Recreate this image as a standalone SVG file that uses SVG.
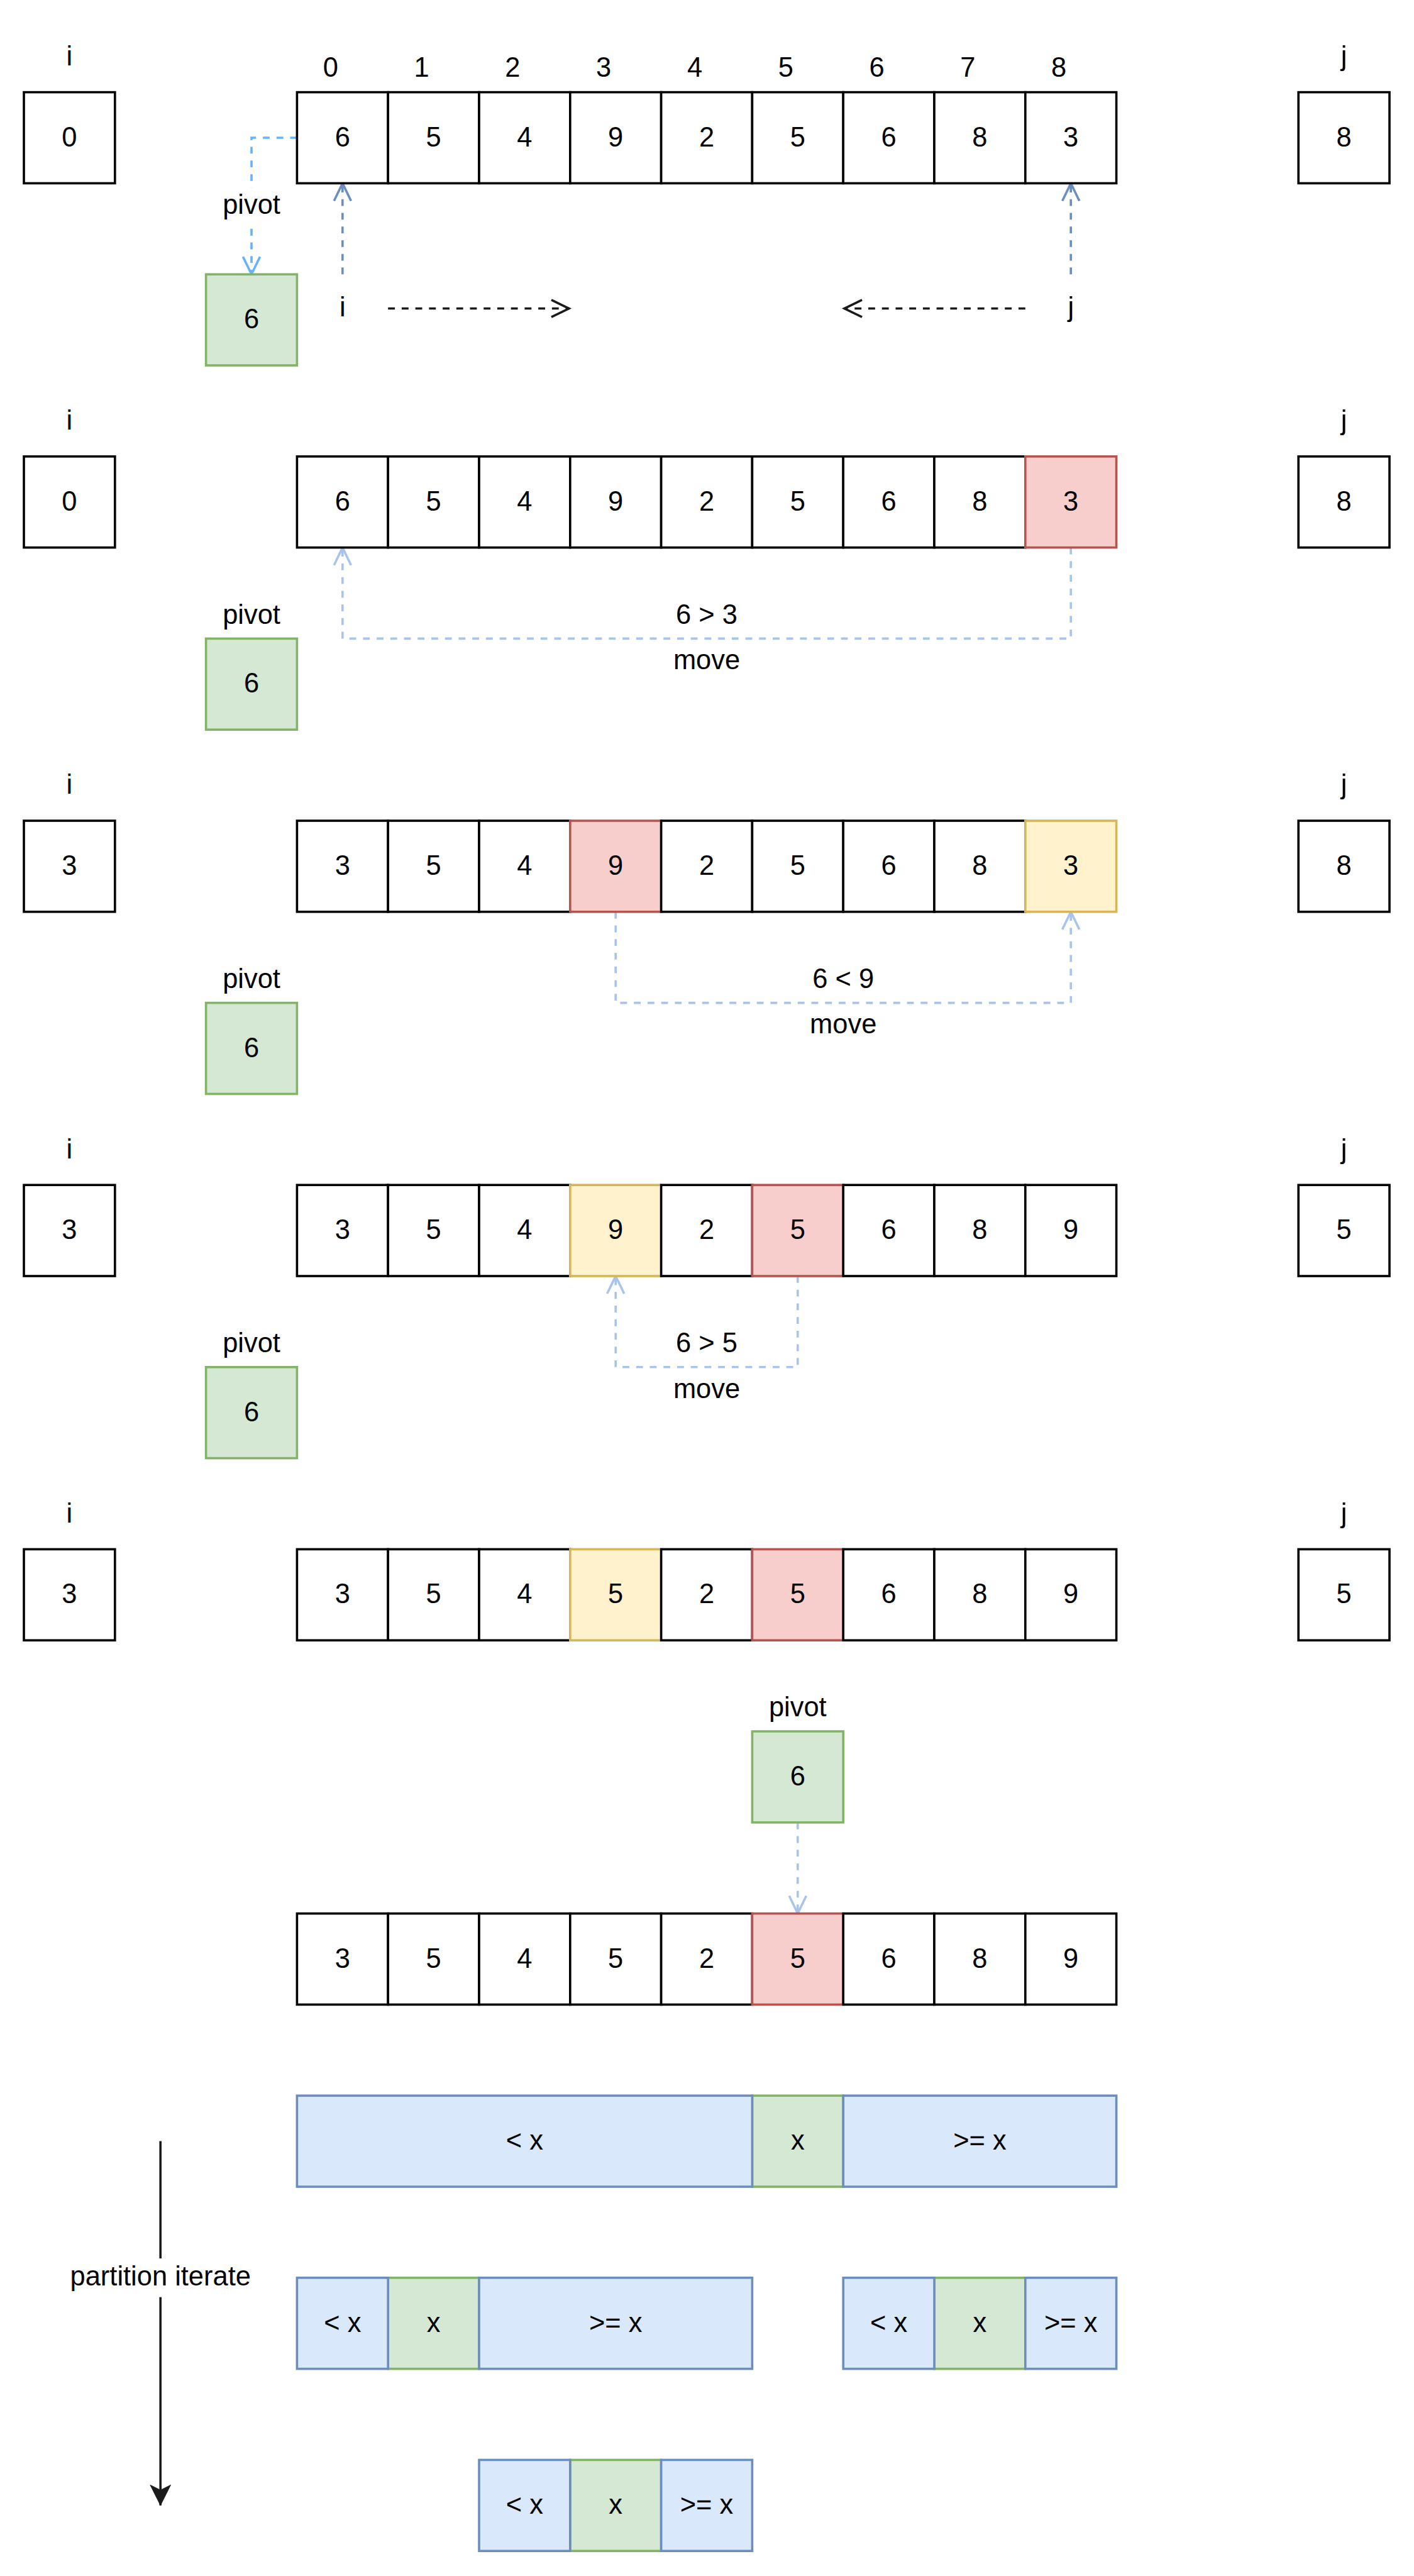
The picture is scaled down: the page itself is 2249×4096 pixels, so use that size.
<svg xmlns="http://www.w3.org/2000/svg" width="2249" height="4096" viewBox="0 0 2249 4096">
<style>
text{font-family:"Liberation Sans",Arial,Helvetica,sans-serif;font-size:48px;fill:#000;text-anchor:middle}
.c{fill:#fff;stroke:#000;stroke-width:4}
.r{fill:#F8CECC;stroke:#B85450;stroke-width:4}
.y{fill:#FFF2CC;stroke:#D6B656;stroke-width:4}
.g{fill:#D5E8D4;stroke:#82B366;stroke-width:4}
.b{fill:#DAE8FC;stroke:#6C8EBF;stroke-width:4}
.e{fill:none;stroke-width:4;stroke-dasharray:12 12}
</style>
<defs>
<marker id="mA" markerUnits="userSpaceOnUse" orient="auto" markerWidth="80" markerHeight="80" refX="0" refY="0" overflow="visible"><path d="M-31,-15 L0,0 L-31,15" fill="none" stroke="#66B2FF" stroke-width="4"/></marker>
<marker id="mB" markerUnits="userSpaceOnUse" orient="auto" markerWidth="80" markerHeight="80" refX="0" refY="0" overflow="visible"><path d="M-31,-15 L0,0 L-31,15" fill="none" stroke="#6C8EBF" stroke-width="4"/></marker>
<marker id="mC" markerUnits="userSpaceOnUse" orient="auto" markerWidth="80" markerHeight="80" refX="0" refY="0" overflow="visible"><path d="M-31,-15 L0,0 L-31,15" fill="none" stroke="#A9C4EB" stroke-width="4"/></marker>
<marker id="mK" markerUnits="userSpaceOnUse" orient="auto" markerWidth="80" markerHeight="80" refX="0" refY="0" overflow="visible"><path d="M-31,-15 L0,0 L-31,15" fill="none" stroke="#1A1A1A" stroke-width="4"/></marker>
<marker id="mF" markerUnits="userSpaceOnUse" orient="auto" markerWidth="80" markerHeight="80" refX="0" refY="0" overflow="visible"><path d="M0,0 L-36,-18 L-27,0 L-36,18 Z" fill="#1A1A1A" stroke="#1A1A1A" stroke-width="1"/></marker>
</defs>
<rect width="2249" height="4096" fill="#fff"/>
<g transform="scale(0.905)">

<!-- connectors -->
<g id="connectors">
<path class="e" stroke="#66B2FF" d="M522,242 L442,242 L442,482" marker-end="url(#mA)"/>
<path class="e" stroke="#6C8EBF" d="M602,482 L602,322" marker-end="url(#mB)"/>
<path class="e" stroke="#6C8EBF" d="M1882,482 L1882,322" marker-end="url(#mB)"/>
<path class="e" stroke="#1A1A1A" d="M682,542 L1000,542" marker-end="url(#mK)"/>
<path class="e" stroke="#1A1A1A" d="M1802,542 L1484,542" marker-end="url(#mK)"/>
<path class="e" stroke="#A9C4EB" d="M1882,962 L1882,1122 L602,1122 L602,962" marker-end="url(#mC)"/>
<path class="e" stroke="#A9C4EB" d="M1082,1602 L1082,1762 L1882,1762 L1882,1602" marker-end="url(#mC)"/>
<path class="e" stroke="#A9C4EB" d="M1402,2242 L1402,2402 L1082,2402 L1082,2242" marker-end="url(#mC)"/>
<path class="e" stroke="#A9C4EB" d="M1402,3202 L1402,3362" marker-end="url(#mC)"/>
<path fill="none" stroke="#1A1A1A" stroke-width="4" d="M282,3762 L282,4402" marker-end="url(#mF)"/>
<rect x="390" y="330" width="104" height="62" fill="#fff"/>
<text x="442" y="376">pivot</text>
<rect x="118" y="3968" width="328" height="68" fill="#fff"/>
<text x="282" y="4016">partition iterate</text>
<text x="1242" y="1096">6 &gt; 3</text>
<text x="1242" y="1176">move</text>
<text x="1482" y="1736">6 &lt; 9</text>
<text x="1482" y="1816">move</text>
<text x="1242" y="2376">6 &gt; 5</text>
<text x="1242" y="2456">move</text>
<text x="602" y="556">i</text>
<text x="1882" y="556">j</text>
</g>

<!-- index labels -->
<g id="indices">
<text x="581" y="135">0</text><text x="741" y="135">1</text><text x="901" y="135">2</text><text x="1061" y="135">3</text><text x="1221" y="135">4</text><text x="1381" y="135">5</text><text x="1541" y="135">6</text><text x="1701" y="135">7</text><text x="1861" y="135">8</text>
</g>

<!-- Row 0 -->
<g id="row0">
<text x="122" y="115">i</text><text x="2362" y="115">j</text>
<g id="r0i"><rect class="c" x="42" y="162" width="160" height="160"/><text x="122" y="257">0</text></g>
<g id="r0j"><rect class="c" x="2282" y="162" width="160" height="160"/><text x="2362" y="257">8</text></g>
<g id="r0c0"><rect class="c" x="522" y="162" width="160" height="160"/><text x="602" y="257">6</text></g>
<g id="r0c1"><rect class="c" x="682" y="162" width="160" height="160"/><text x="762" y="257">5</text></g>
<g id="r0c2"><rect class="c" x="842" y="162" width="160" height="160"/><text x="922" y="257">4</text></g>
<g id="r0c3"><rect class="c" x="1002" y="162" width="160" height="160"/><text x="1082" y="257">9</text></g>
<g id="r0c4"><rect class="c" x="1162" y="162" width="160" height="160"/><text x="1242" y="257">2</text></g>
<g id="r0c5"><rect class="c" x="1322" y="162" width="160" height="160"/><text x="1402" y="257">5</text></g>
<g id="r0c6"><rect class="c" x="1482" y="162" width="160" height="160"/><text x="1562" y="257">6</text></g>
<g id="r0c7"><rect class="c" x="1642" y="162" width="160" height="160"/><text x="1722" y="257">8</text></g>
<g id="r0c8"><rect class="c" x="1802" y="162" width="160" height="160"/><text x="1882" y="257">3</text></g>
<g id="r0p"><rect class="g" x="362" y="482" width="160" height="160"/><text x="442" y="577">6</text></g>
</g>

<!-- Row 1 -->
<g id="row1">
<text x="122" y="755">i</text><text x="2362" y="755">j</text>
<g id="r1i"><rect class="c" x="42" y="802" width="160" height="160"/><text x="122" y="897">0</text></g>
<g id="r1j"><rect class="c" x="2282" y="802" width="160" height="160"/><text x="2362" y="897">8</text></g>
<g id="r1c0"><rect class="c" x="522" y="802" width="160" height="160"/><text x="602" y="897">6</text></g>
<g id="r1c1"><rect class="c" x="682" y="802" width="160" height="160"/><text x="762" y="897">5</text></g>
<g id="r1c2"><rect class="c" x="842" y="802" width="160" height="160"/><text x="922" y="897">4</text></g>
<g id="r1c3"><rect class="c" x="1002" y="802" width="160" height="160"/><text x="1082" y="897">9</text></g>
<g id="r1c4"><rect class="c" x="1162" y="802" width="160" height="160"/><text x="1242" y="897">2</text></g>
<g id="r1c5"><rect class="c" x="1322" y="802" width="160" height="160"/><text x="1402" y="897">5</text></g>
<g id="r1c6"><rect class="c" x="1482" y="802" width="160" height="160"/><text x="1562" y="897">6</text></g>
<g id="r1c7"><rect class="c" x="1642" y="802" width="160" height="160"/><text x="1722" y="897">8</text></g>
<g id="r1c8"><rect class="r" x="1802" y="802" width="160" height="160"/><text x="1882" y="897">3</text></g>
<g id="r1p"><text x="442" y="1096">pivot</text><rect class="g" x="362" y="1122" width="160" height="160"/><text x="442" y="1217">6</text></g>
</g>

<!-- Row 2 -->
<g id="row2">
<text x="122" y="1395">i</text><text x="2362" y="1395">j</text>
<g id="r2i"><rect class="c" x="42" y="1442" width="160" height="160"/><text x="122" y="1537">3</text></g>
<g id="r2j"><rect class="c" x="2282" y="1442" width="160" height="160"/><text x="2362" y="1537">8</text></g>
<g id="r2c0"><rect class="c" x="522" y="1442" width="160" height="160"/><text x="602" y="1537">3</text></g>
<g id="r2c1"><rect class="c" x="682" y="1442" width="160" height="160"/><text x="762" y="1537">5</text></g>
<g id="r2c2"><rect class="c" x="842" y="1442" width="160" height="160"/><text x="922" y="1537">4</text></g>
<g id="r2c3"><rect class="r" x="1002" y="1442" width="160" height="160"/><text x="1082" y="1537">9</text></g>
<g id="r2c4"><rect class="c" x="1162" y="1442" width="160" height="160"/><text x="1242" y="1537">2</text></g>
<g id="r2c5"><rect class="c" x="1322" y="1442" width="160" height="160"/><text x="1402" y="1537">5</text></g>
<g id="r2c6"><rect class="c" x="1482" y="1442" width="160" height="160"/><text x="1562" y="1537">6</text></g>
<g id="r2c7"><rect class="c" x="1642" y="1442" width="160" height="160"/><text x="1722" y="1537">8</text></g>
<g id="r2c8"><rect class="y" x="1802" y="1442" width="160" height="160"/><text x="1882" y="1537">3</text></g>
<g id="r2p"><text x="442" y="1736">pivot</text><rect class="g" x="362" y="1762" width="160" height="160"/><text x="442" y="1857">6</text></g>
</g>

<!-- Row 3 -->
<g id="row3">
<text x="122" y="2035">i</text><text x="2362" y="2035">j</text>
<g id="r3i"><rect class="c" x="42" y="2082" width="160" height="160"/><text x="122" y="2177">3</text></g>
<g id="r3j"><rect class="c" x="2282" y="2082" width="160" height="160"/><text x="2362" y="2177">5</text></g>
<g id="r3c0"><rect class="c" x="522" y="2082" width="160" height="160"/><text x="602" y="2177">3</text></g>
<g id="r3c1"><rect class="c" x="682" y="2082" width="160" height="160"/><text x="762" y="2177">5</text></g>
<g id="r3c2"><rect class="c" x="842" y="2082" width="160" height="160"/><text x="922" y="2177">4</text></g>
<g id="r3c3"><rect class="y" x="1002" y="2082" width="160" height="160"/><text x="1082" y="2177">9</text></g>
<g id="r3c4"><rect class="c" x="1162" y="2082" width="160" height="160"/><text x="1242" y="2177">2</text></g>
<g id="r3c5"><rect class="r" x="1322" y="2082" width="160" height="160"/><text x="1402" y="2177">5</text></g>
<g id="r3c6"><rect class="c" x="1482" y="2082" width="160" height="160"/><text x="1562" y="2177">6</text></g>
<g id="r3c7"><rect class="c" x="1642" y="2082" width="160" height="160"/><text x="1722" y="2177">8</text></g>
<g id="r3c8"><rect class="c" x="1802" y="2082" width="160" height="160"/><text x="1882" y="2177">9</text></g>
<g id="r3p"><text x="442" y="2376">pivot</text><rect class="g" x="362" y="2402" width="160" height="160"/><text x="442" y="2497">6</text></g>
</g>

<!-- Row 4 -->
<g id="row4">
<text x="122" y="2675">i</text><text x="2362" y="2675">j</text>
<g id="r4i"><rect class="c" x="42" y="2722" width="160" height="160"/><text x="122" y="2817">3</text></g>
<g id="r4j"><rect class="c" x="2282" y="2722" width="160" height="160"/><text x="2362" y="2817">5</text></g>
<g id="r4c0"><rect class="c" x="522" y="2722" width="160" height="160"/><text x="602" y="2817">3</text></g>
<g id="r4c1"><rect class="c" x="682" y="2722" width="160" height="160"/><text x="762" y="2817">5</text></g>
<g id="r4c2"><rect class="c" x="842" y="2722" width="160" height="160"/><text x="922" y="2817">4</text></g>
<g id="r4c3"><rect class="y" x="1002" y="2722" width="160" height="160"/><text x="1082" y="2817">5</text></g>
<g id="r4c4"><rect class="c" x="1162" y="2722" width="160" height="160"/><text x="1242" y="2817">2</text></g>
<g id="r4c5"><rect class="r" x="1322" y="2722" width="160" height="160"/><text x="1402" y="2817">5</text></g>
<g id="r4c6"><rect class="c" x="1482" y="2722" width="160" height="160"/><text x="1562" y="2817">6</text></g>
<g id="r4c7"><rect class="c" x="1642" y="2722" width="160" height="160"/><text x="1722" y="2817">8</text></g>
<g id="r4c8"><rect class="c" x="1802" y="2722" width="160" height="160"/><text x="1882" y="2817">9</text></g>
<g id="r4p"><text x="1402" y="3016">pivot</text><rect class="g" x="1322" y="3042" width="160" height="160"/><text x="1402" y="3137">6</text></g>
</g>

<!-- Row 5 (final) -->
<g id="row5">
<g id="r5c0"><rect class="c" x="522" y="3362" width="160" height="160"/><text x="602" y="3457">3</text></g>
<g id="r5c1"><rect class="c" x="682" y="3362" width="160" height="160"/><text x="762" y="3457">5</text></g>
<g id="r5c2"><rect class="c" x="842" y="3362" width="160" height="160"/><text x="922" y="3457">4</text></g>
<g id="r5c3"><rect class="c" x="1002" y="3362" width="160" height="160"/><text x="1082" y="3457">5</text></g>
<g id="r5c4"><rect class="c" x="1162" y="3362" width="160" height="160"/><text x="1242" y="3457">2</text></g>
<g id="r5c5"><rect class="r" x="1322" y="3362" width="160" height="160"/><text x="1402" y="3457">5</text></g>
<g id="r5c6"><rect class="c" x="1482" y="3362" width="160" height="160"/><text x="1562" y="3457">6</text></g>
<g id="r5c7"><rect class="c" x="1642" y="3362" width="160" height="160"/><text x="1722" y="3457">8</text></g>
<g id="r5c8"><rect class="c" x="1802" y="3362" width="160" height="160"/><text x="1882" y="3457">9</text></g>
</g>

<!-- Partition bars -->
<g id="part1">
<g id="p1x"><rect class="g" x="1322" y="3682" width="160" height="160"/><text x="1402" y="3777">x</text></g>
<g id="p1l"><rect class="b" x="522" y="3682" width="800" height="160"/><text x="922" y="3777">&lt; x</text></g>
<g id="p1r"><rect class="b" x="1482" y="3682" width="480" height="160"/><text x="1722" y="3777">&gt;= x</text></g>
</g>
<g id="part2a">
<g id="p2ax"><rect class="g" x="682" y="4002" width="160" height="160"/><text x="762" y="4097">x</text></g>
<g id="p2al"><rect class="b" x="522" y="4002" width="160" height="160"/><text x="602" y="4097">&lt; x</text></g>
<g id="p2ar"><rect class="b" x="842" y="4002" width="480" height="160"/><text x="1082" y="4097">&gt;= x</text></g>
</g>
<g id="part2b">
<g id="p2bx"><rect class="g" x="1642" y="4002" width="160" height="160"/><text x="1722" y="4097">x</text></g>
<g id="p2bl"><rect class="b" x="1482" y="4002" width="160" height="160"/><text x="1562" y="4097">&lt; x</text></g>
<g id="p2br"><rect class="b" x="1802" y="4002" width="160" height="160"/><text x="1882" y="4097">&gt;= x</text></g>
</g>
<g id="part3">
<g id="p3x"><rect class="g" x="1002" y="4322" width="160" height="160"/><text x="1082" y="4417">x</text></g>
<g id="p3l"><rect class="b" x="842" y="4322" width="160" height="160"/><text x="922" y="4417">&lt; x</text></g>
<g id="p3r"><rect class="b" x="1162" y="4322" width="160" height="160"/><text x="1242" y="4417">&gt;= x</text></g>
</g>

</g>
</svg>
